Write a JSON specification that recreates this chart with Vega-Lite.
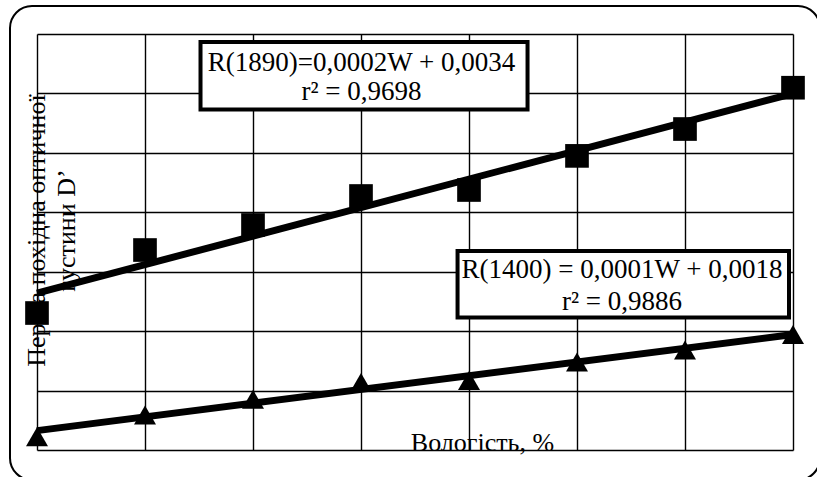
{
  "$schema": "https://vega.github.io/schema/vega-lite/v6.json",
  "width": 756,
  "height": 416,
  "autosize": {"type": "none"},
  "padding": {"left": 37, "top": 34, "right": 24, "bottom": 27},
  "background": "white",
  "config": {
    "view": {"stroke": null},
    "font": "Liberation Serif"
  },
  "datasets": {
    "points": [
      {"series": "1890", "x": 0, "y": 0.002305},
      {"series": "1890", "x": 1, "y": 0.003365},
      {"series": "1890", "x": 2, "y": 0.003786},
      {"series": "1890", "x": 3, "y": 0.004274},
      {"series": "1890", "x": 4, "y": 0.004375},
      {"series": "1890", "x": 5, "y": 0.004949},
      {"series": "1890", "x": 6, "y": 0.005401},
      {"series": "1890", "x": 7, "y": 0.006096},
      {"series": "1400", "x": 0, "y": 0.000224},
      {"series": "1400", "x": 1, "y": 0.000589},
      {"series": "1400", "x": 2, "y": 0.000855},
      {"series": "1400", "x": 3, "y": 0.001136},
      {"series": "1400", "x": 4, "y": 0.00117},
      {"series": "1400", "x": 5, "y": 0.001481},
      {"series": "1400", "x": 6, "y": 0.001683},
      {"series": "1400", "x": 7, "y": 0.001943}
    ],
    "notes": [
      {"id": "1890", "eq": "R(1890)=0,0002W + 0,0034", "r2": "r² = 0,9698"},
      {"id": "1400", "eq": "R(1400) = 0,0001W + 0,0018", "r2": "r² = 0,9886"}
    ],
    "frame": [{"part": "outer"}]
  },
  "layer": [
    {
      "data": {"name": "points"},
      "transform": [{"regression": "y", "on": "x", "groupby": ["series"]}],
      "mark": {"type": "line", "color": "black", "strokeWidth": 7},
      "encoding": {
        "x": {
          "field": "x", "type": "quantitative",
          "scale": {"domain": [0, 7]},
          "axis": {
            "values": [0, 1, 2, 3, 4, 5, 6, 7],
            "labels": false,
            "ticks": false,
            "domain": false,
            "grid": true,
            "gridColor": "black",
            "gridWidth": 1.4,
            "gridOpacity": 1,
            "zindex": 0,
            "title": "Вологість, %",
            "titleFont": "Liberation Serif",
            "titleFontWeight": "normal",
            "titleColor": "black",
            "titleFontSize": 26,
            "titleX": 445,
            "titleY": 0,
            "titleAlign": "center",
            "titleBaseline": "alphabetic"
          }
        },
        "y": {
          "field": "y", "type": "quantitative",
          "scale": {"domain": [0, 0.007]},
          "axis": {
            "values": [0, 0.001, 0.002, 0.003, 0.004, 0.005, 0.006, 0.007],
            "labels": false,
            "ticks": false,
            "domain": false,
            "grid": true,
            "gridColor": "black",
            "gridWidth": 1.4,
            "gridOpacity": 1,
            "zindex": 0,
            "title": ["Перша похідна оптичної", "густини D’"],
            "titleFont": "Liberation Serif",
            "titleFontWeight": "normal",
            "titleColor": "black",
            "titleFontSize": 26,
            "titleAngle": -90,
            "titleX": 7,
            "titleY": 196,
            "titleAlign": "center",
            "titleBaseline": "alphabetic",
            "titleLineHeight": 30
          }
        },
        "detail": {"field": "series"}
      }
    },
    {
      "data": {"name": "points"},
      "transform": [{"filter": "datum.series === '1890'"}],
      "mark": {"type": "point", "shape": "square", "filled": true, "color": "black", "opacity": 1, "size": 560, "strokeWidth": 0},
      "encoding": {
        "x": {"field": "x", "type": "quantitative"},
        "y": {"field": "y", "type": "quantitative"}
      }
    },
    {
      "data": {"name": "points"},
      "transform": [{"filter": "datum.series === '1400'"}],
      "mark": {"type": "point", "shape": "triangle-up", "filled": true, "color": "black", "opacity": 1, "size": 484, "strokeWidth": 0},
      "encoding": {
        "x": {"field": "x", "type": "quantitative"},
        "y": {"field": "y", "type": "quantitative"}
      }
    },
    {
      "data": {"name": "notes"},
      "transform": [{"filter": "datum.id === '1890'"}],
      "mark": {"type": "rect", "fill": "white", "stroke": "black", "strokeWidth": 4},
      "encoding": {
        "x": {"datum": 1.514, "type": "quantitative"},
        "x2": {"datum": 4.542},
        "y": {"datum": 0.006865, "type": "quantitative"},
        "y2": {"datum": 0.005729}
      }
    },
    {
      "data": {"name": "notes"},
      "transform": [{"filter": "datum.id === '1890'"}],
      "mark": {"type": "text", "font": "Liberation Serif", "fontSize": 27, "color": "black", "align": "center", "baseline": "alphabetic"},
      "encoding": {
        "x": {"datum": 3.005, "type": "quantitative"},
        "y": {"datum": 0.006382, "type": "quantitative"},
        "text": {"field": "eq"}
      }
    },
    {
      "data": {"name": "notes"},
      "transform": [{"filter": "datum.id === '1890'"}],
      "mark": {"type": "text", "font": "Liberation Serif", "fontSize": 27, "color": "black", "align": "center", "baseline": "alphabetic"},
      "encoding": {
        "x": {"datum": 3.005, "type": "quantitative"},
        "y": {"datum": 0.005889, "type": "quantitative"},
        "text": {"field": "r2"}
      }
    },
    {
      "data": {"name": "notes"},
      "transform": [{"filter": "datum.id === '1400'"}],
      "mark": {"type": "rect", "fill": "white", "stroke": "black", "strokeWidth": 4},
      "encoding": {
        "x": {"datum": 3.894, "type": "quantitative"},
        "x2": {"datum": 6.963},
        "y": {"datum": 0.003348, "type": "quantitative"},
        "y2": {"datum": 0.00223}
      }
    },
    {
      "data": {"name": "notes"},
      "transform": [{"filter": "datum.id === '1400'"}],
      "mark": {"type": "text", "font": "Liberation Serif", "fontSize": 27, "color": "black", "align": "center", "baseline": "alphabetic"},
      "encoding": {
        "x": {"datum": 5.417, "type": "quantitative"},
        "y": {"datum": 0.002894, "type": "quantitative"},
        "text": {"field": "eq"}
      }
    },
    {
      "data": {"name": "notes"},
      "transform": [{"filter": "datum.id === '1400'"}],
      "mark": {"type": "text", "font": "Liberation Serif", "fontSize": 27, "color": "black", "align": "center", "baseline": "alphabetic"},
      "encoding": {
        "x": {"datum": 5.417, "type": "quantitative"},
        "y": {"datum": 0.002356, "type": "quantitative"},
        "text": {"field": "r2"}
      }
    },
    {
      "data": {"name": "frame"},
      "mark": {"type": "rect", "fill": null, "stroke": "black", "strokeWidth": 2, "cornerRadius": 22},
      "encoding": {
        "x": {"datum": -0.25, "type": "quantitative"},
        "x2": {"datum": 7.25},
        "y": {"datum": 0.00747, "type": "quantitative"},
        "y2": {"datum": -0.000505}
      }
    }
  ]
}
